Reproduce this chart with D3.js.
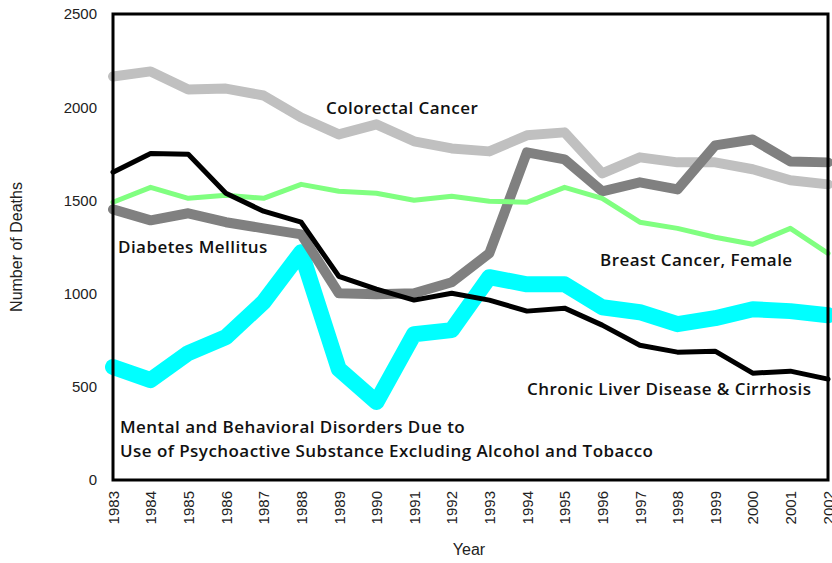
<!DOCTYPE html>
<html>
<head>
<meta charset="utf-8">
<script src="https://cdn.jsdelivr.net/npm/d3@7"></script>
<style>
  body { margin: 0; background: #fff; }
  .tick text { font-family: "Liberation Sans", Arial, sans-serif; font-size: 15px; fill: #222; }
  .lbl { font-family: "Open Sans", sans-serif; font-weight: 600; font-size: 17px; letter-spacing: 0.45px; fill: #111; }
  .title { font-family: "Liberation Sans", Arial, sans-serif; font-size: 16px; fill: #222; }
</style>
</head>
<body>
<div id="chart"></div>
<script>
var years = [1983,1984,1985,1986,1987,1988,1989,1990,1991,1992,1993,1994,1995,1996,1997,1998,1999,2000,2001,2002];
var colorectal = [2165,2192,2095,2100,2063,1945,1854,1908,1817,1779,1763,1849,1865,1645,1731,1704,1704,1667,1608,1586];
var liver = [1651,1752,1747,1538,1442,1383,1093,1024,965,1002,965,906,922,831,723,686,691,573,584,541];
var breast = [1490,1570,1511,1527,1511,1586,1549,1538,1501,1522,1495,1490,1570,1511,1383,1350,1302,1265,1350,1216];
var diabetes = [1452,1393,1431,1383,1350,1318,1002,997,1002,1061,1216,1758,1720,1549,1597,1559,1795,1827,1709,1704];
var mental = [606,536,681,766,954,1222,595,418,782,804,1088,1050,1050,927,900,836,868,916,906,884];
var yTicks = [0,500,1000,1500,2000,2500];

var series = [
  {name: "mental", values: mental, color: "#00ffff", width: 16},
  {name: "colorectal", values: colorectal, color: "#c0c0c0", width: 10},
  {name: "diabetes", values: diabetes, color: "#808080", width: 10},
  {name: "breast", values: breast, color: "#80ff80", width: 5},
  {name: "liver", values: liver, color: "#000000", width: 5}
];

var labels = [
  {text: ["Colorectal Cancer"], x: 326, y: 114},
  {text: ["Diabetes Mellitus"], x: 118, y: 253},
  {text: ["Breast Cancer, Female"], x: 600, y: 266},
  {text: ["Chronic Liver Disease & Cirrhosis"], x: 527, y: 395},
  {text: ["Mental and Behavioral Disorders Due to", "Use of Psychoactive Substance Excluding Alcohol and Tobacco"], x: 120, y: 433}
];

var W = 832, H = 563,
    margin = {left: 113, top: 14, right: 4, bottom: 83};

var svg = d3.select("#chart").append("svg")
    .attr("width", W)
    .attr("height", H);

var x = d3.scaleLinear().domain([1983, 2002]).range([margin.left, W - margin.right]);
var y = d3.scaleLinear().domain([0, 2500]).range([H - margin.bottom, margin.top]);

// axes (no tick marks, only labels)
var yAxis = svg.append("g")
    .attr("transform", "translate(" + margin.left + ",0)")
    .call(d3.axisLeft(y).tickValues(yTicks).tickSize(0).tickPadding(16).tickFormat(d3.format("d")));
yAxis.select(".domain").remove();

var xAxis = svg.append("g")
    .attr("transform", "translate(0," + (H - margin.bottom) + ")")
    .call(d3.axisBottom(x).tickValues(years).tickSize(0).tickFormat(d3.format("d")));
xAxis.select(".domain").remove();
xAxis.selectAll("text")
    .attr("transform", "rotate(-90)")
    .attr("text-anchor", "end")
    .attr("x", -11)
    .attr("y", 0)
    .attr("dy", "0.35em");

var line = d3.line()
    .x(function(d, i) { return x(years[i]); })
    .y(function(d) { return y(d); });

svg.selectAll("path.series")
    .data(series)
  .enter().append("path")
    .attr("class", "series")
    .attr("d", function(d) { return line(d.values); })
    .attr("fill", "none")
    .attr("stroke", function(d) { return d.color; })
    .attr("stroke-width", function(d) { return d.width; })
    .attr("stroke-linejoin", "round")
    .attr("stroke-linecap", "round");

// frame
svg.append("rect")
    .attr("x", margin.left)
    .attr("y", margin.top)
    .attr("width", W - margin.right - margin.left)
    .attr("height", H - margin.bottom - margin.top)
    .attr("fill", "none")
    .attr("stroke", "#000")
    .attr("stroke-width", 3);

labels.forEach(function(l) {
  var t = svg.append("text").attr("class", "lbl").attr("x", l.x).attr("y", l.y);
  l.text.forEach(function(s, i) {
    t.append("tspan").attr("x", l.x).attr("dy", i ? 24 : 0).text(s);
  });
});

svg.append("text")
    .attr("class", "title")
    .attr("transform", "translate(22," + ((margin.top + H - margin.bottom) / 2) + ") rotate(-90)")
    .attr("text-anchor", "middle")
    .text("Number of Deaths");

svg.append("text")
    .attr("class", "title")
    .attr("x", 469)
    .attr("y", 555)
    .attr("text-anchor", "middle")
    .text("Year");
</script>
</body>
</html>
